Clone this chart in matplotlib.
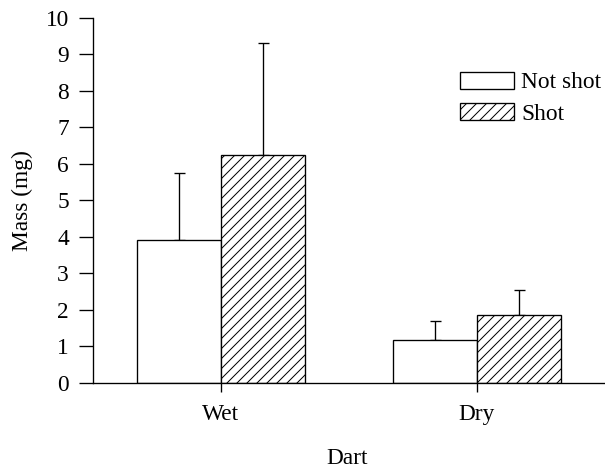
import numpy as np
import matplotlib
matplotlib.use("Agg")
import matplotlib.pyplot as plt

# values
groups = ["Wet", "Dry"]
not_shot = [3.92, 1.18]
not_shot_err = [1.82, 0.51]
shot = [6.23, 1.87]
shot_err = [3.07, 0.67]
y_ticks = list(range(0, 11))

plt.rcParams["font.family"] = ["Liberation Serif", "DejaVu Serif"]
plt.rcParams["hatch.linewidth"] = 0.6
plt.rcParams["hatch.color"] = "black"

fs = 14
dpi = 120
fig = plt.figure(figsize=(605 / dpi, 468 / dpi), dpi=dpi)
ax = fig.add_axes([0.1537, 0.1816, 1.0 - 0.1537, 0.9626 - 0.1816])

x = np.arange(len(groups))
w = 0.33

ax.bar(x - w / 2, not_shot, w, color="white", edgecolor="black", linewidth=0.8, label="Not shot", zorder=2)
ax.bar(x + w / 2, shot, w, color="white", edgecolor="black", linewidth=0.8, hatch="////", label="Shot", zorder=2)

# upper error bars only
ax.errorbar(x - w / 2, not_shot, yerr=[np.zeros(len(groups)), not_shot_err], fmt="none",
            ecolor="black", elinewidth=0.8, capsize=3.3, capthick=0.8, zorder=1)
ax.errorbar(x + w / 2, shot, yerr=[np.zeros(len(groups)), shot_err], fmt="none",
            ecolor="black", elinewidth=0.8, capsize=3.3, capthick=0.8, zorder=1)

ax.set_xlim(-0.5, 1.5)
ax.set_ylim(0, 10)
ax.set_yticks(y_ticks)
ax.set_xticks(x)
ax.set_xticklabels(groups)

for s in ["top", "right"]:
    ax.spines[s].set_visible(False)
for s in ["left", "bottom"]:
    ax.spines[s].set_linewidth(0.8)

ax.tick_params(axis="y", direction="out", length=8.4, width=0.8, pad=6, labelsize=fs)
ax.tick_params(axis="x", direction="out", length=5.6, width=0.8, pad=7, labelsize=fs)

ax.set_ylabel("Mass (mg)", fontsize=fs)
ax.yaxis.set_label_coords(-0.117, 0.5)
ax.set_xlabel("Dart", fontsize=fs)
ax.xaxis.set_label_coords(0.496, -0.178)

ax.legend(loc="upper left", bbox_to_anchor=(0.717, 0.852), frameon=False, fontsize=fs,
          handlelength=2.32, handleheight=0.77, handletextpad=0.3, labelspacing=0.4,
          borderpad=0, borderaxespad=0)

fig.savefig("out.png", dpi=dpi)
